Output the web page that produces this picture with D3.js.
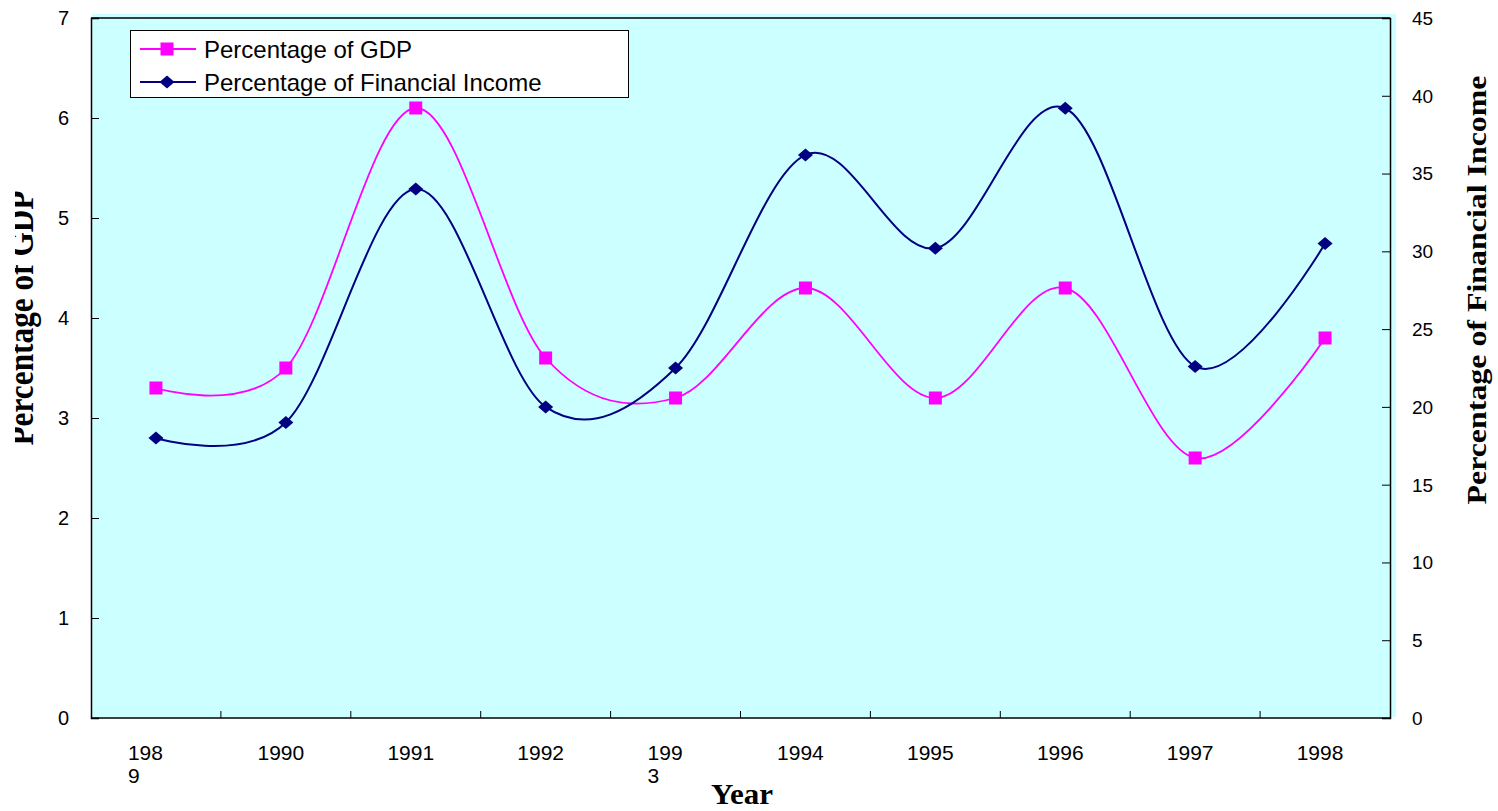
<!DOCTYPE html>
<html>
  <head>
    <meta charset="UTF-8">
    <script src="https://cdn.jsdelivr.net/npm/d3@7/dist/d3.min.js"></script>
    <style>
      body { margin: 0; background: #fff; }
      svg { display: block; }
    </style>
  </head>
  <body>
    <svg width="1498" height="811"></svg>

    <script type="text/javascript">
      // Data
      var years = ['1989', '1990', '1991', '1992', '1993', '1994', '1995', '1996', '1997', '1998'];
      var yearLabels = [['198', '9'], ['1990'], ['1991'], ['1992'], ['199', '3'], ['1994'], ['1995'], ['1996'], ['1997'], ['1998']];
      var gdpShare = [3.3, 3.5, 6.1, 3.6, 3.2, 4.3, 3.2, 4.3, 2.6, 3.8];
      var incomeShare = [18.0, 19.0, 34.0, 20.0, 22.5, 36.2, 30.2, 39.2, 22.6, 30.5];
      var leftTicks = [0, 1, 2, 3, 4, 5, 6, 7];
      var rightTicks = [0, 5, 10, 15, 20, 25, 30, 35, 40, 45];

      var svg = d3.select('svg');
      // (window.top is read-only, so plot edges get their own names)
      var pLeft = 91, pRight = 1390, pTop = 18, pBottom = 718;

      var x = d3.scaleBand().domain(years).range([pLeft, pRight]);
      var yL = d3.scaleLinear().domain([0, 7]).range([pBottom, pTop]);
      var yR = d3.scaleLinear().domain([0, 45]).range([pBottom, pTop]);

      // plot area
      svg.append('rect')
        .attr('x', pLeft + 1).attr('y', pTop - 4)
        .attr('width', pRight - pLeft + 5).attr('height', pBottom - pTop + 3)
        .attr('fill', '#ccffff');
      svg.append('line').attr('x1', pLeft).attr('x2', pRight).attr('y1', pTop).attr('y2', pTop)
        .attr('stroke', '#000').attr('stroke-width', 1.5);

      // left axis
      var gL = svg.append('g').attr('transform', 'translate(' + pLeft + ',0)')
        .call(d3.axisRight(yL).tickValues(leftTicks).tickSize(8).tickFormat(''));
      svg.append('g').selectAll('text').data(leftTicks).enter().append('text')
        .attr('x', 69).attr('y', function(d) { return yL(d); }).attr('dy', '0.36em')
        .attr('text-anchor', 'end')
        .style('font', '20px "Liberation Sans", Arial, sans-serif')
        .text(function(d) { return d; });

      // right axis
      var gR = svg.append('g').attr('transform', 'translate(' + pRight + ',0)')
        .call(d3.axisLeft(yR).tickValues(rightTicks).tickSize(8).tickFormat(''));
      svg.append('g').selectAll('text').data(rightTicks).enter().append('text')
        .attr('x', 1412).attr('y', function(d) { return yR(d); }).attr('dy', '0.36em')
        .style('font', '19px "Liberation Sans", Arial, sans-serif')
        .text(function(d) { return d; });

      [gL, gR].forEach(function(g) {
        g.select('.domain').attr('stroke-width', 1.5);
        g.selectAll('line').attr('stroke', '#000');
      });

      // bottom axis with boundary ticks
      var gB = svg.append('g').attr('transform', 'translate(0,' + pBottom + ')');
      gB.append('line').attr('x1', pLeft).attr('x2', pRight).attr('stroke', '#000').attr('stroke-width', 1.5);
      gB.selectAll('.tk').data(years.slice(1)).enter().append('line')
        .attr('x1', function(d) { return x(d); }).attr('x2', function(d) { return x(d); })
        .attr('y1', 0).attr('y2', -7).attr('stroke', '#000');

      var xl = svg.append('g').selectAll('text').data(years).enter().append('text')
        .attr('y', 760)
        .style('font', '21px "Liberation Sans", Arial, sans-serif')
        .attr('text-anchor', function(d, i) { return yearLabels[i].length > 1 ? 'start' : 'middle'; })
        .attr('x', function(d, i) {
          var c = x(d) + x.bandwidth() / 2;
          return yearLabels[i].length > 1 ? c - 28 : c - 5;
        });
      xl.each(function(d, i) {
        var t = d3.select(this);
        var px = t.attr('x');
        yearLabels[i].forEach(function(s, k) {
          t.append('tspan').attr('x', px).attr('dy', k ? 23 : 0).text(s);
        });
      });

      // axis titles (Times, a little condensed as in the original)
      svg.append('defs').append('clipPath').attr('id', 'lclip')
        .append('rect').attr('x', 15).attr('y', 0).attr('width', 60).attr('height', 811);
      svg.append('g').attr('clip-path', 'url(#lclip)')
        .append('text')
        .attr('transform', 'translate(33,318) rotate(-90)')
        .attr('text-anchor', 'middle')
        .attr('textLength', 255).attr('lengthAdjust', 'spacingAndGlyphs')
        .style('font', 'bold 36px "Liberation Serif", "Times New Roman", serif')
        .text('Percentage of GDP');
      svg.append('text')
        .attr('transform', 'translate(1486,290) rotate(-90)')
        .attr('text-anchor', 'middle')
        .attr('textLength', 429).attr('lengthAdjust', 'spacingAndGlyphs')
        .style('font', 'bold 27px "Liberation Serif", "Times New Roman", serif')
        .text('Percentage of Financial Income');
      svg.append('text')
        .attr('x', 742).attr('y', 804).attr('text-anchor', 'middle')
        .attr('textLength', 62).attr('lengthAdjust', 'spacingAndGlyphs')
        .style('font', 'bold 30px "Liberation Serif", "Times New Roman", serif')
        .text('Year');

      // series
      var cx = function(d, i) { return x(years[i]) + x.bandwidth() / 2; };
      var series = [
        { name: 'Percentage of GDP', values: gdpShare, y: yL, color: '#ff00ff', width: 1.8, shape: 'square' },
        { name: 'Percentage of Financial Income', values: incomeShare, y: yR, color: '#000080', width: 2, shape: 'diamond' }
      ];
      function marker(sel, s) {
        if (s.shape === 'square') {
          sel.append('rect').attr('x', -6.5).attr('y', -6.5).attr('width', 13).attr('height', 13).attr('fill', s.color);
        } else {
          sel.append('path').attr('d', 'M0,-6.5L7.5,0L0,6.5L-7.5,0Z').attr('fill', s.color);
        }
      }
      series.forEach(function(s) {
        var line = d3.line().x(cx).y(function(d) { return s.y(d); }).curve(d3.curveCatmullRom.alpha(0));
        svg.append('path').datum(s.values).attr('d', line)
          .attr('fill', 'none').attr('stroke', s.color).attr('stroke-width', s.width);
        svg.append('g').selectAll('g').data(s.values).enter().append('g')
          .attr('transform', function(d, i) { return 'translate(' + cx(d, i) + ',' + s.y(d) + ')'; })
          .each(function() { marker(d3.select(this), s); });
      });

      // legend
      var lg = svg.append('g');
      lg.append('rect').attr('x', 130.5).attr('y', 30.5).attr('width', 498).attr('height', 67)
        .attr('fill', '#fff').attr('stroke', '#000');
      series.forEach(function(s, i) {
        var row = lg.append('g').attr('transform', 'translate(0,' + (49 + i * 33) + ')');
        row.append('line').attr('x1', 140).attr('x2', 196).attr('stroke', s.color).attr('stroke-width', s.width);
        marker(row.append('g').attr('transform', 'translate(167,0)'), s);
        row.append('text').attr('x', 204).attr('dy', '0.36em')
          .style('font', '24px "Liberation Sans", Arial, sans-serif')
          .text(s.name);
      });
    </script>
  </body>
</html>
